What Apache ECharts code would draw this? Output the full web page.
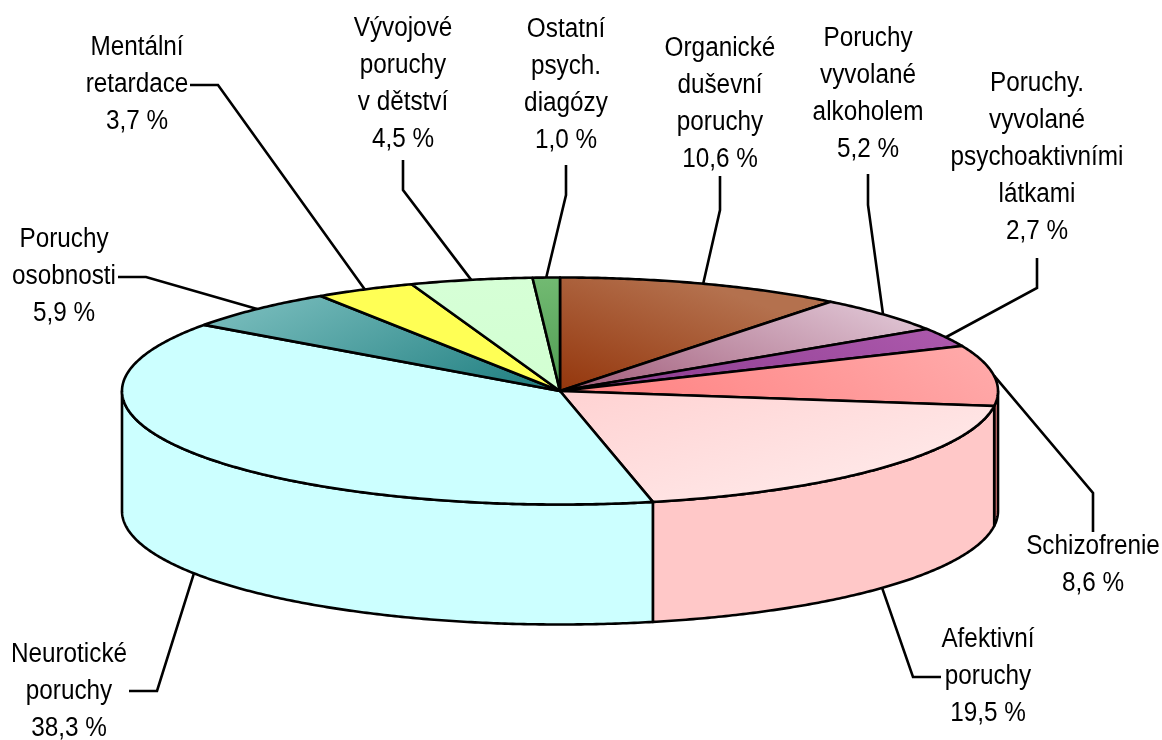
<!DOCTYPE html>
<html>
<head>
<meta charset="utf-8">
<style>html,body{margin:0;padding:0;background:#fff}#c{width:1162px;height:740px}</style>
<script src="https://cdn.jsdelivr.net/npm/echarts@6/dist/echarts.min.js"></script>
</head>
<body>
<div id="c"></div>
<script>
// Data
const names = ['Organické\nduševní\nporuchy','Poruchy\nvyvolané\nalkoholem','Poruchy.\nvyvolané\npsychoaktivními\nlátkami','Schizofrenie','Afektivní\nporuchy','Neurotické\nporuchy','Poruchy\nosobnosti','Mentální\nretardace','Vývojové\nporuchy\nv dětství','Ostatní\npsych.\ndiagózy'];
const values = [10.6,5.2,2.7,8.6,19.5,38.3,5.9,3.7,4.5,1.0];

// Styles: inner colour, outer colour, wall colour, gradient tilt
const innerColors = ['#94360c','#a05a78','#8a3a8e','#ff8080','#ffd2d2','#ccffff','#1c7c7e','#ffff55','#d2ffd2','#4f9c52'];
const outerColors = ['#b4714e','#dcbfcf','#ab58ab','#ffa8a8','#ffe6e6','#ccffff','#72b8b8','#ffff55','#d6ffd6','#72ba72'];
const wallColors  = ['#b4714e','#dcbfcf','#ab58ab','#ff8a8a','#ffc8c8','#ccffff','#72b8b8','#ffff55','#d6ffd6','#72ba72'];
const gradientTilt = [4,1.5,1,0.4,1,1,2,1,1,8];

// Layout: label centre x, first line top y, elbow points of the leader
const labelPos = [[720,30],[868,20],[1037,65],[1093,528],[988,621],[69,636],[64,221],[137,29],[403,10],[566,11]];
const leaderStart = [[720,176],[868,174],[1037,258],[1093,532],[941,677],[129,691],[118,277],[190,85],[403,160],[566,165]];
const leaderElbow = [[720,210],[868,205],[1037,288],[1093,493],[913,677],[157,691],[146,277],[218,85],[403,190],[566,195]];

const CX = 560, CY = 391, RX = 438, RY = 113.5, DEPTH = 120;
const FONT_SIZE = 27, LINE_H = 37, SCALE_X = 0.9, STROKE = 2.6;
const total = values.reduce((a,b)=>a+b,0);

function pt(deg, dy){
  const r = deg*Math.PI/180;
  return [CX+RX*Math.sin(r), CY-RY*Math.cos(r)+(dy||0)];
}
function range(i){
  let s = 0;
  for(let k=0;k<i;k++) s += values[k];
  return [s/total*360,(s+values[i])/total*360];
}
function arc(a,b,dy){
  const pts=[], n=Math.max(2,Math.ceil((b-a)/0.5));
  for(let k=0;k<=n;k++) pts.push(pt(a+(b-a)*k/n,dy));
  return pts;
}
function gradientFor(i,mid){
  const r=mid*Math.PI/180;
  let nx=gradientTilt[i]*Math.sin(r)/RX, ny=-Math.cos(r)/RY;
  const len=Math.hypot(nx,ny); nx/=len; ny/=len;
  const p=pt(mid);
  const t=(p[0]-CX)*nx+(p[1]-CY)*ny;
  return {type:'linear',global:true,x:CX,y:CY,x2:CX+nx*t,y2:CY+ny*t,
    colorStops:[{offset:0,color:innerColors[i]},{offset:1,color:outerColors[i]}]};
}

function renderWall(params,api){
  const i=params.dataIndex, v=api.value(0);
  const [a,b]=range(i);
  const s=Math.max(a,90), e=Math.min(b,270);
  if(!(v>0)||e<=s) return {type:'group',children:[]};
  const pts=arc(s,e,0).concat(arc(s,e,DEPTH).reverse());
  return {type:'polygon',shape:{points:pts},
    style:{fill:wallColors[i],stroke:'#000',lineWidth:STROKE,lineJoin:'round'}};
}
function renderTop(params,api){
  const i=params.dataIndex, v=api.value(0);
  const [a,b]=range(i);
  const pts=[[CX,CY]].concat(arc(a,b,0));
  return {type:'polygon',shape:{points:pts},
    style:{fill:gradientFor(i,(a+b)/2),stroke:'#000',lineWidth:STROKE,lineJoin:'round'}};
}
function renderLabel(params,api){
  const i=params.dataIndex, v=api.value(0);
  const [a,b]=range(i), mid=(a+b)/2;
  const end=pt(mid,(mid>90&&mid<270)?DEPTH:0);
  return {type:'group',children:[
    {type:'polyline',shape:{points:[leaderStart[i],leaderElbow[i],end]},
      style:{fill:null,stroke:'#000',lineWidth:STROKE,lineJoin:'miter'}},
    {type:'text',x:labelPos[i][0],y:labelPos[i][1],scaleX:SCALE_X,
      style:{text:names[i]+'\n'+v.toFixed(1).replace('.',',')+' %',
        x:0,y:0,align:'center',verticalAlign:'top',lineHeight:LINE_H,
        fontFamily:'Liberation Sans, Arial, sans-serif',fontSize:FONT_SIZE,fill:'#000'}}
  ]};
}

const chart = echarts.init(document.getElementById('c'),null,{renderer:'canvas'});
const seriesData = values.map(v=>[v]);
chart.setOption({
  animation:false,
  backgroundColor:'#fff',
  series:[
    {type:'custom',coordinateSystem:'none',renderItem:renderLabel,data:seriesData,silent:true,z:1},
    {type:'custom',coordinateSystem:'none',renderItem:renderWall,data:seriesData,silent:true,z:2},
    {type:'custom',coordinateSystem:'none',renderItem:renderTop,data:seriesData,silent:true,z:3}
  ]
});
</script>
</body>
</html>
